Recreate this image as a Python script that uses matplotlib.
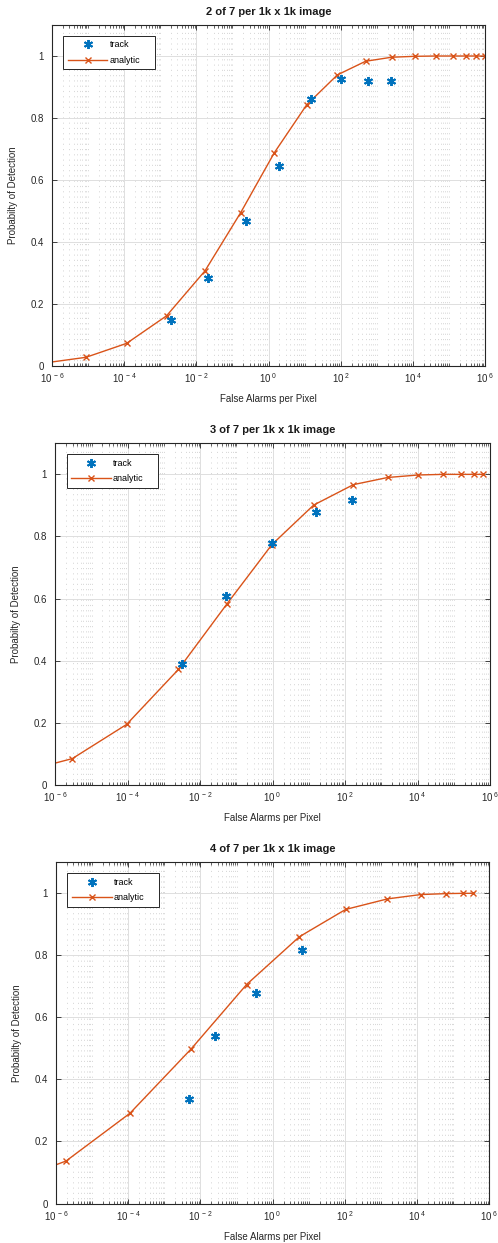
import numpy as np
import matplotlib
matplotlib.use("Agg")
import matplotlib.pyplot as plt
from matplotlib.ticker import FixedLocator, FixedFormatter, LogLocator, NullFormatter

plt.rcParams['font.family'] = ['Liberation Sans', 'DejaVu Sans']
plt.rcParams['mathtext.fontset'] = 'custom'
plt.rcParams['mathtext.rm'] = 'Liberation Sans'
plt.rcParams['mathtext.it'] = 'Liberation Sans:italic'
plt.rcParams['mathtext.default'] = 'regular'
plt.rcParams['lines.scale_dashes'] = False

# ---- data -------------------------------------------------------------
titles = ["2 of 7 per 1k x 1k image",
          "3 of 7 per 1k x 1k image",
          "4 of 7 per 1k x 1k image"]

# analytic curves (false alarms per pixel, probability of detection)
an1_fa = [5.6e-7, 8.7e-6, 1.17e-4, 1.5e-3, 1.74e-2, 0.17, 1.45, 11.5, 81,
          490, 2570, 1.15e4, 4.3e4, 1.26e5, 2.95e5, 5.75e5, 1.0e6]
an1_pd = [0.009, 0.028, 0.073, 0.162, 0.307, 0.495, 0.688, 0.843, 0.939,
          0.983, 0.996, 0.999, 1.0, 1.0, 1.0, 1.0, 1.0]

an2_fa = [1.0e-7, 2.95e-6, 9.3e-5, 2.5e-3, 5.4e-2, 0.955, 13.5, 170, 1510,
          1.05e4, 5.1e4, 1.62e5, 3.55e5, 6.3e5]
an2_pd = [0.040, 0.085, 0.195, 0.372, 0.582, 0.774, 0.901, 0.967, 0.990,
          0.998, 1.0, 1.0, 1.0, 1.0]

an3_fa = [2.5e-8, 1.9e-6, 1.12e-4, 5.5e-3, 0.19, 5.5, 105, 1510, 1.26e4,
          6.3e4, 1.86e5, 3.6e5]
an3_pd = [0.055, 0.137, 0.291, 0.498, 0.706, 0.860, 0.948, 0.982, 0.996,
          0.999, 1.0, 1.0]

# tracker results
tr1_fa = [2.0e-3, 2.15e-2, 0.245, 2.0, 15.5, 100, 560, 2500]
tr1_pd = [0.148, 0.285, 0.468, 0.646, 0.861, 0.926, 0.920, 0.920]

tr2_fa = [3.1e-3, 5.2e-2, 0.98, 15.5, 155]
tr2_pd = [0.389, 0.609, 0.780, 0.879, 0.919]

tr3_fa = [4.9e-3, 2.5e-2, 0.34, 6.5]
tr3_pd = [0.338, 0.539, 0.678, 0.818]

xtick_vals = [1e-6, 1e-4, 1e-2, 1e0, 1e2, 1e4, 1e6]
xtick_labels = [r'$10^{\ -6}$', r'$10^{\ -4}$', r'$10^{\ -2}$', r'$10^{\ 0}$',
                r'$10^{\ 2}$', r'$10^{\ 4}$', r'$10^{\ 6}$']
ytick_vals = [0, 0.2, 0.4, 0.6, 0.8, 1.0]
ytick_labels = ['0', '0.2', '0.4', '0.6', '0.8', '1']

panels = [
    (titles[0], an1_fa, an1_pd, tr1_fa, tr1_pd),
    (titles[1], an2_fa, an2_pd, tr2_fa, tr2_pd),
    (titles[2], an3_fa, an3_pd, tr3_fa, tr3_pd),
]

# ---- figure -----------------------------------------------------------
W, H = 498, 1243
fig = plt.figure(figsize=(W / 100, H / 100), dpi=100)

# axes rectangles in pixels: left, top, right, bottom
rects_px = [(52, 25, 485, 366), (55.3, 443.3, 490, 785), (56, 862.3, 489.3, 1203.5)]

AX_COL = '#262626'
BLUE = '#0072BD'
ORANGE = '#D95319'
asterisk = (6, 2, 0)

for (title, afa, apd, tfa, tpd), (l, t, r, b) in zip(panels, rects_px):
    ax = fig.add_axes([l / W, 1 - b / H, (r - l) / W, (b - t) / H])
    ax.set_xscale('log')
    ax.set_xlim(1e-6, 1e6)
    ax.set_ylim(0, 1.1)

    ax.plot(tfa, tpd, linestyle='none', marker=asterisk, color=BLUE,
            markersize=6.5, markeredgewidth=1.4, label='track', zorder=3)
    ax.plot(afa, apd, '-', marker='x', color=ORANGE, linewidth=1.0,
            markersize=5, markeredgewidth=1.0, label='analytic', zorder=2)

    ax.xaxis.set_major_locator(FixedLocator(xtick_vals))
    ax.xaxis.set_major_formatter(FixedFormatter(xtick_labels))
    ax.xaxis.set_minor_locator(LogLocator(base=10, subs=np.arange(1, 10), numticks=100))
    ax.xaxis.set_minor_formatter(NullFormatter())
    ax.set_yticks(ytick_vals)
    ax.set_yticklabels(ytick_labels)

    ax.grid(True, which='major', color='#dedede', linewidth=0.7, linestyle='-', zorder=0)
    ax.grid(True, which='minor', axis='x', color='#d2d2d2', linewidth=0.6,
            linestyle=(0, (0.8, 3.0)), zorder=0)
    ax.set_axisbelow(True)

    ax.tick_params(which='both', direction='in', top=True, right=True,
                   colors=AX_COL, labelcolor=AX_COL, labelsize=7)
    ax.tick_params(which='major', length=3.5, width=0.6)
    ax.tick_params(which='minor', length=2.0, width=0.5)
    ax.tick_params(axis='x', which='major', pad=4)
    ax.tick_params(axis='y', which='major', pad=6)
    for sp in ax.spines.values():
        sp.set_color(AX_COL)
        sp.set_linewidth(0.8)

    ax.set_title(title, fontsize=8, fontweight='bold', color='#1a1a1a',
                 y=1.039, va='center', pad=0)
    ax.set_xlabel('False Alarms per Pixel', fontsize=7, color=AX_COL)
    ax.xaxis.set_label_coords(0.5, -0.097)
    ax.xaxis.label.set_verticalalignment('center')
    ax.set_ylabel('Probabilty of Detection', fontsize=7, color=AX_COL)
    ax.yaxis.set_label_coords(-0.09, 0.5)
    ax.yaxis.label.set_verticalalignment('center')

    leg = ax.legend(loc='upper left', bbox_to_anchor=(0.026, 0.863, 0.211, 0.105),
                    mode='expand', borderaxespad=0, fontsize=6.5, fancybox=False,
                    framealpha=1, edgecolor=AX_COL, borderpad=0.5, labelspacing=0.7,
                    handlelength=4.4, handletextpad=0.25)
    leg.get_frame().set_linewidth(0.7)

fig.savefig('out.png', dpi=100)
